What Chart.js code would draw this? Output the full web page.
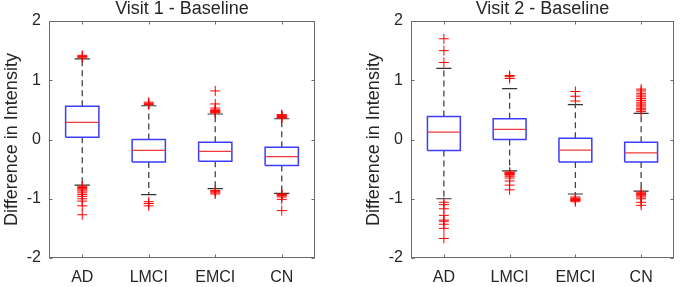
<!DOCTYPE html>
<html><head><meta charset="utf-8">
<script src="https://cdn.jsdelivr.net/npm/chart.js@4.4.1/dist/chart.umd.min.js"></script>
<style>
html,body{margin:0;padding:0;background:#fff;}
#wrap{position:relative;width:680px;height:287px;overflow:hidden;background:#fff;}
#c1{position:absolute;left:0;top:0;}
#c2{position:absolute;left:362px;top:0;}
</style></head><body>
<div id="wrap"><canvas id="c1" width="340" height="287"></canvas><canvas id="c2" width="318" height="287"></canvas></div>
<script>
const categories = ['AD', 'LMCI', 'EMCI', 'CN'];
const yTicks = [-2, -1, 0, 1, 2];
const titles = ['Visit 1 - Baseline', 'Visit 2 - Baseline'];
const yLabel = 'Difference in Intensity';

// Visit 1 - Baseline
const v1Q1 = [0.04, -0.38, -0.365, -0.44];
const v1Median = [0.29, -0.185, -0.2, -0.29];
const v1Q3 = [0.56, 0.0, -0.045, -0.13];
const v1WhiskerLow = [-0.77, -0.93, -0.83, -0.91];
const v1WhiskerHigh = [1.36, 0.57, 0.43, 0.35];
const v1Outliers = [
  [1.38, 1.40, 1.42, -0.79, -0.81, -0.83, -0.85, -0.87, -0.90, -0.93, -0.96, -1.00, -1.04, -1.12, -1.27],
  [0.59, 0.61, 0.63, -1.05, -1.08, -1.12],
  [0.45, 0.46, 0.47, 0.48, 0.49, 0.50, 0.53, 0.60, 0.82, -0.86, -0.88, -0.90, -0.92],
  [0.36, 0.37, 0.38, 0.39, 0.40, 0.41, 0.42, -0.92, -0.93, -0.94, -0.95, -0.97, -1.01, -1.20]
];

// Visit 2 - Baseline
const v2Q1 = [-0.185, 0.0, -0.38, -0.38];
const v2Median = [0.125, 0.17, -0.18, -0.225];
const v2Q3 = [0.39, 0.35, 0.02, -0.045];
const v2WhiskerLow = [-1.0, -0.53, -0.92, -0.87];
const v2WhiskerHigh = [1.2, 0.86, 0.59, 0.44];
const v2Outliers = [
  [1.30, 1.50, 1.70, -1.06, -1.10, -1.17, -1.28, -1.36, -1.38, -1.43, -1.50, -1.67],
  [1.03, 1.06, 1.08, -0.55, -0.56, -0.57, -0.58, -0.59, -0.60, -0.62, -0.65, -0.70, -0.77, -0.85],
  [0.65, 0.73, 0.81, -0.97, -0.99, -1.00, -1.01, -1.02, -1.03, -1.05],
  [0.47, 0.50, 0.52, 0.55, 0.58, 0.60, 0.63, 0.66, 0.69, 0.72, 0.75, 0.78, 0.82, 0.85,
   -0.89, -0.91, -0.93, -0.95, -0.97, -1.00, -1.06, -1.11]
];

const TEXT = '#262626';
const FONT = "'Liberation Sans', Arial, Helvetica, sans-serif";
const BOX_HALF = 0.25, CAP_HALF = 0.115;

function buildDatasets(q1, med, q3, wl, wh, outs) {
  const box = [], medLine = [], whisk = [], caps = [], pts = [];
  categories.forEach((c, i) => {
    const x = i + 1;
    box.push({x: x - BOX_HALF, y: q1[i]}, {x: x + BOX_HALF, y: q1[i]}, {x: x + BOX_HALF, y: q3[i]},
             {x: x - BOX_HALF, y: q3[i]}, {x: x - BOX_HALF, y: q1[i]}, {x: x, y: null});
    medLine.push({x: x - BOX_HALF, y: med[i]}, {x: x + BOX_HALF, y: med[i]}, {x: x + BOX_HALF, y: null});
    whisk.push({x: x, y: q3[i]}, {x: x, y: wh[i]}, {x: x, y: null},
               {x: x, y: q1[i]}, {x: x, y: wl[i]}, {x: x, y: null});
    caps.push({x: x - CAP_HALF, y: wh[i]}, {x: x + CAP_HALF, y: wh[i]}, {x: x + CAP_HALF, y: null},
              {x: x - CAP_HALF, y: wl[i]}, {x: x + CAP_HALF, y: wl[i]}, {x: x + CAP_HALF, y: null});
    outs[i].forEach(v => pts.push({x: x, y: v}));
  });
  return [
    {label: 'outliers', data: pts, showLine: false, pointStyle: 'cross', pointRadius: 5,
     pointBorderColor: 'rgb(255,0,0)', pointBackgroundColor: 'rgb(255,0,0)', pointBorderWidth: 1},
    {label: 'median', data: medLine, borderColor: 'rgb(240,60,60)', borderWidth: 1.2, pointRadius: 0},
    {label: 'box', data: box, borderColor: 'rgb(60,60,250)', borderWidth: 1.5, pointRadius: 0},
    {label: 'caps', data: caps, borderColor: '#333', borderWidth: 1.2, pointRadius: 0},
    {label: 'whiskers', data: whisk, borderColor: '#444', borderWidth: 1.3, borderDash: [6, 4], pointRadius: 0}
  ];
}

const framePlugin = {
  id: 'frame',
  afterDraw(chart) {
    const {ctx, chartArea: a, scales: {x, y}} = chart;
    ctx.save();
    ctx.strokeStyle = '#6a6a6a';
    ctx.lineWidth = 1;
    const L = Math.round(a.left) + 0.5, R = Math.round(a.right) - 0.5,
          T = Math.round(a.top) + 0.5, B = Math.round(a.bottom) - 0.5;
    ctx.strokeRect(L, T, R - L, B - T);
    const t = 3;
    ctx.beginPath();
    x.ticks.forEach(tk => {
      const px = Math.round(x.getPixelForValue(tk.value)) + 0.5;
      ctx.moveTo(px, B); ctx.lineTo(px, B - t);
      ctx.moveTo(px, T); ctx.lineTo(px, T + t);
    });
    y.ticks.forEach(tk => {
      const py = Math.round(y.getPixelForValue(tk.value)) + 0.5;
      ctx.moveTo(L, py); ctx.lineTo(L + t, py);
      ctx.moveTo(R, py); ctx.lineTo(R - t, py);
    });
    ctx.stroke();
    ctx.restore();
  }
};

function makeChart(id, title, datasets, padRight) {
  return new Chart(document.getElementById(id), {
    type: 'line',
    data: {datasets},
    plugins: [framePlugin],
    options: {
      responsive: false,
      animation: false,
      events: [],
      layout: {padding: {left: 0, right: padRight, top: 0, bottom: 0}},
      elements: {line: {tension: 0, fill: false}},
      plugins: {
        legend: {display: false},
        tooltip: {enabled: false},
        title: {display: true, text: title, fullSize: false, color: TEXT,
                font: {family: FONT, size: 18, weight: 'normal', lineHeight: 1},
                padding: {top: 0, bottom: 3}}
      },
      scales: {
        x: {
          type: 'linear', min: 0.5, max: 4.5,
          grid: {display: false, drawTicks: false},
          border: {display: false},
          afterBuildTicks: s => { s.ticks = categories.map((c, i) => ({value: i + 1})); },
          afterFit: s => { s.height = 29; },
          ticks: {color: TEXT, padding: 10, maxRotation: 0, autoSkip: false,
                  font: {family: FONT, size: 16},
                  callback: v => categories[Math.round(v) - 1] ?? ''}
        },
        y: {
          type: 'linear', min: -2, max: 2,
          grid: {display: false, drawTicks: false},
          border: {display: false},
          afterBuildTicks: s => { s.ticks = yTicks.map(v => ({value: v})); },
          afterFit: s => { s.width = 49; },
          ticks: {color: TEXT, padding: 8, font: {family: FONT, size: 16}, callback: v => String(v)},
          title: {display: true, text: yLabel, color: TEXT,
                  font: {family: FONT, size: 18, lineHeight: 1}, padding: {top: 3, bottom: 0}}
        }
      }
    }
  });
}

makeChart('c1', titles[0], buildDatasets(v1Q1, v1Median, v1Q3, v1WhiskerLow, v1WhiskerHigh, v1Outliers), 25);
makeChart('c2', titles[1], buildDatasets(v2Q1, v2Median, v2Q3, v2WhiskerLow, v2WhiskerHigh, v2Outliers), 3);
</script>
</body></html>
